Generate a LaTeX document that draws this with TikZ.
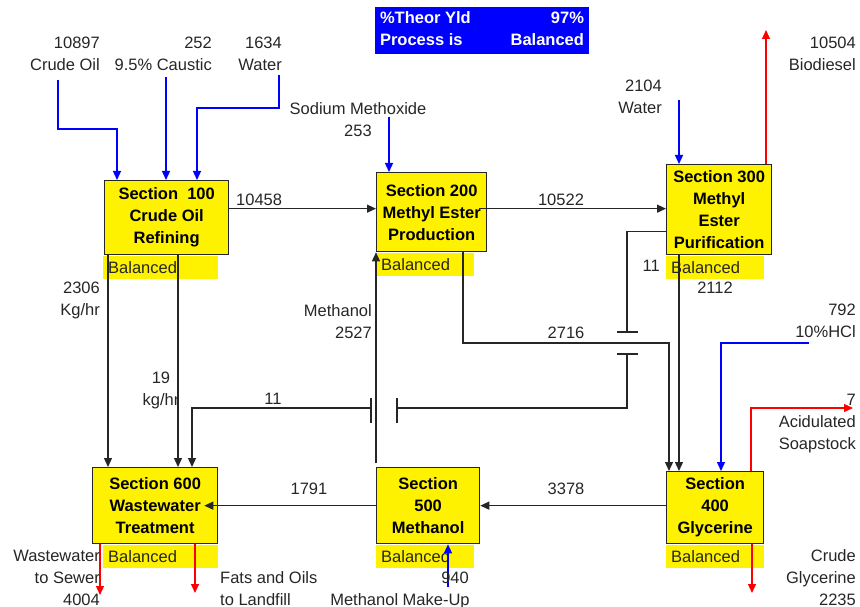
\documentclass[tikz,border=0pt]{standalone}
\usepackage{fontspec}
\setmainfont{Liberation Sans}
\usetikzlibrary{arrows.meta,calc}
\newcommand{\lbl}{\fontsize{16.5}{22}\selectfont}

\begin{document}
\begin{tikzpicture}[x=1pt,y=-1pt,
  every node/.style={font=\lbl, text=black!85, inner sep=0pt},
  sect/.style={draw=black!85, line width=1.3pt, fill=yellow, text=black,
    font=\lbl\bfseries, align=center, anchor=north west},
  bal/.style={fill=yellow, anchor=north west, inner xsep=5pt,
    minimum height=23pt, text width=#1},
  pipe/.style={line width=1.3pt, black!85},
  flow/.style={pipe, -{Triangle[length=9pt,width=8pt]}},
  feed/.style={flow, blue},
  prod/.style={flow, red}]
  \useasboundingbox (0,0) rectangle (860,607);

  % yield box
  \node[fill=blue, text=white, font=\lbl\bfseries, inner xsep=5pt, inner ysep=1.5pt]
    (yld) at (482,30.5) {\begin{tabular*}{204pt}{@{}l@{\extracolsep{\fill}}r@{}}
      \%Theor Yld & 97\%\\ Process is & Balanced\end{tabular*}};

  % sections
  \node[sect, minimum width=124, minimum height=74] (s100) at (104,180) {Section\ \ 100\\Crude Oil\\Refining};
  \node[sect, minimum width=110, minimum height=79] (s200) at (376,172) {Section 200\\Methyl Ester\\Production};
  \node[sect, minimum width=105, minimum height=90] (s300) at (666,164) {Section 300\\Methyl\\Ester\\Purification};
  \node[sect, minimum width=97, minimum height=72] (s400) at (666,471) {Section\\400\\Glycerine};
  \node[sect, minimum width=103, minimum height=76] (s500) at (376,467) {Section\\500\\Methanol};
  \node[sect, minimum width=125, minimum height=76] (s600) at (92,467) {Section 600\\Wastewater\\Treatment};

  \node[bal=105pt] (b100) at ([xshift=-1pt,yshift=-0.6pt]s100.south west) {Balanced};
  \node[bal=88pt] (b200) at ([yshift=-0.6pt]s200.south west) {Balanced};
  \node[bal=88pt] (b300) at ([yshift=-0.6pt]s300.south west) {Balanced};
  \node[bal=88pt] (b400) at ([yshift=-0.6pt]s400.south west) {Balanced};
  \node[bal=88pt] (b500) at ([yshift=-0.6pt]s500.south west) {Balanced};
  \node[bal=105pt] (b600) at ([xshift=11pt,yshift=-0.6pt]s600.south west) {Balanced};

  % stream ends
  \coordinate (crude) at (58,80);
  \coordinate (caus) at (166,77);
  \coordinate (wat1) at (279,75);
  \coordinate (meo) at (389,117);
  \coordinate (wat2) at (679,100);
  \coordinate (bio) at (766,30);
  \coordinate (hcl) at (809,343);
  \coordinate (soap) at (853,408);
  \coordinate (gly) at (752,593);
  \coordinate (mku) at (448,587);
  \coordinate (sew) at (100,595);
  \coordinate (lfill) at (195,593);
  \coordinate (x1) at (627,343);
  \coordinate (x2) at (376,408);
  \coordinate (f1) at ([xshift=13pt]s100.north west);
  \coordinate (f3) at ([xshift=93pt]s100.north west);
  \coordinate (in400a) at ([xshift=3pt]s400.north west);
  \coordinate (in400b) at ([xshift=13pt]s400.north west);
  \coordinate (in400c) at ([xshift=55pt]s400.north west);

  % feeds
  \draw[feed] (crude) |- ($(f1)+(0,-51)$) -- (f1);
  \draw[feed] (caus) -- (caus |- s100.north);
  \draw[feed] (wat1) |- ($(f3)+(0,-72)$) -- (f3);
  \draw[feed] (meo) -- (meo |- s200.north);
  \draw[feed] (wat2) -- (wat2 |- s300.north);
  \draw[feed] (hcl) -| (in400c);
  \draw[feed] (mku) -- (mku |- s500.south);

  % products
  \draw[prod] (bio |- s300.north) -- (bio);
  \draw[prod] ([xshift=85pt]s400.north west) |- (soap);
  \draw[prod] (gly |- s400.south) -- (gly);
  \draw[prod] (sew |- s600.south) -- (sew);
  \draw[prod] (lfill |- s600.south) -- (lfill);

  % main streams
  \draw[flow] ([yshift=9pt]s100.east) -- ([yshift=9pt]s100.east -| s200.west);
  \draw[flow] ([xshift=-8pt,yshift=3.5pt]s200.east) -- ([yshift=3.5pt]s200.east -| s300.west);
  \draw[flow] ([xshift=13pt]s300.south west) -- (in400b);
  \draw[flow] ([xshift=87pt]s200.south west) |- (x1 -| in400a) -- (in400a);
  \draw[flow] (s400.west |- s500.east) -- (s500.east);
  \draw[flow] (s500.west) -- ([xshift=-14pt]s600.east);
  \draw[flow, shorten <=4pt] (s500.north west) -- (s200.south west);
  \draw[flow] ([xshift=4pt]s100.south west) -- ([xshift=16pt]s600.north west);
  \draw[flow] ([xshift=74pt]s100.south west) -- ([xshift=86pt]s600.north west);

  % 11 kg/hr stream with line breaks
  \draw[pipe] ([yshift=-22pt]s300.west) -| ($(x1)+(0,-11)$);
  \draw[pipe] ($(x1)+(-10,-11)$) -- ($(x1)+(11,-11)$);
  \draw[pipe] ($(x1)+(-10,11)$) -- ($(x1)+(11,11)$);
  \draw[pipe] ($(x1)+(0,11)$) |- ($(x2)+(21,0)$);
  \draw[pipe] ($(x2)+(21,-10)$) -- ($(x2)+(21,15)$);
  \draw[pipe] ($(x2)+(-5,-10)$) -- ($(x2)+(-5,15)$);
  \draw[flow] ($(x2)+(-5,0)$) -| ([xshift=100pt]s600.north west);

  % labels (base = last line)
  \node[anchor=base east, align=right] (lcrude) at (100,71) {10897\\Crude Oil};
  \node[anchor=base east, align=right] (lcaus) at (212,71) {252\\9.5\% Caustic};
  \node[anchor=base east, align=right] (lwat1) at (282,71) {1634\\Water};
  \node[anchor=base, align=center] (lmeo) at (358,137) {Sodium Methoxide\\253};
  \node[anchor=base east, align=right] (lwat2) at (662,114) {2104\\Water};
  \node[anchor=base east, align=right] (lbio) at (856,71) {10504\\Biodiesel};
  \node[anchor=base west] (l10458) at (236,205) {10458};
  \node[anchor=base] (l10522) at (561,205) {10522};
  \node[anchor=base east] (l11a) at (660,271) {11};
  \node[anchor=base] (l2112) at (715,293) {2112};
  \node[anchor=base east, align=right] (lhcl) at (856,337) {792\\10\%HCl};
  \node[anchor=base] (l2716) at (566,338) {2716};
  \node[anchor=base east, align=right] (l2306) at (100,315) {2306\\Kg/hr};
  \node[anchor=base, align=center] (l19) at (161,405) {19\\kg/hr};
  \node[anchor=base] (l11b) at (273,404) {11};
  \node[anchor=base east, align=right] (lmeoh) at (372,338) {Methanol\\2527};
  \node[anchor=base] (l1791) at (309,494) {1791};
  \node[anchor=base] (l3378) at (566,494) {3378};
  \node[anchor=base east, align=right] (lsoap) at (856,449) {7\\Acidulated\\Soapstock};
  \node[anchor=base east, align=right] (lgly) at (856,605) {Crude\\Glycerine\\2235};
  \node[anchor=base east, align=right] (lsew) at (100,605) {Wastewater\\to Sewer\\4004};
  \node[anchor=base west, align=left] (lfat) at (220,605) {Fats and Oils\\to Landfill};
  \node[anchor=base east] (l940) at (469,583) {940};
  \node[anchor=base] (lmku) at (400,605) {Methanol Make-Up};
\end{tikzpicture}
\end{document}
